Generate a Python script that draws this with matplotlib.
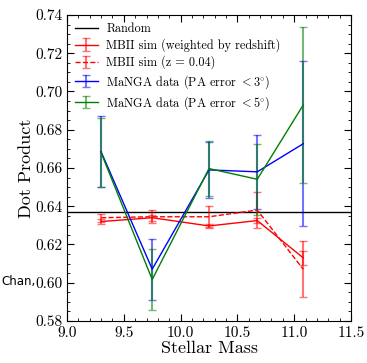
import numpy as np
import matplotlib
matplotlib.use('Agg')
from matplotlib import pyplot as plt
from matplotlib.ticker import MultipleLocator

plt.rcParams['font.family'] = 'serif'
plt.rcParams['font.serif'] = ['cmr10', 'DejaVu Serif']
plt.rcParams['mathtext.fontset'] = 'cm'
plt.rcParams['axes.formatter.use_mathtext'] = True

mass = [9.3, 9.75, 10.25, 10.675, 11.08]
random_level = 0.637

mbii_w = [0.632, 0.634, 0.6297, 0.6325, 0.613]
mbii_w_err = [0.0014, 0.0015, 0.0012, 0.0015, 0.0037]

mbii_z = [0.634, 0.6345, 0.6345, 0.6380, 0.607]
mbii_z_err = [0.0022, 0.0034, 0.0055, 0.0096, 0.0147]

manga3 = [0.6685, 0.6071, 0.659, 0.658, 0.6727]
manga3_err = [0.0185, 0.016, 0.0148, 0.0193, 0.043]

manga5 = [0.668, 0.6017, 0.6597, 0.6541, 0.693]
manga5_err = [0.018, 0.0158, 0.0143, 0.0185, 0.0407]

fig = plt.figure(figsize=(3.67, 3.63), dpi=100)
ax = fig.add_axes([0.1826, 0.1157, 0.7738, 0.843])

ax.axhline(random_level, color='black', lw=1.0, label='Random')


def draw(y, err, color, ls, label):
    line, caps, bars = ax.errorbar(mass, y, yerr=err, color=color, ls=ls,
                                   lw=1.0, elinewidth=1.5, capsize=2.7,
                                   capthick=1.0, label=label)
    for c in caps:
        c.set_alpha(0.55)
    for b in bars:
        b.set_alpha(0.55)


draw(mbii_w, mbii_w_err, 'red', '-', 'MBII sim (weighted by redshift)')
draw(mbii_z, mbii_z_err, 'red', '--', 'MBII sim (z = 0.04)')
draw(manga3, manga3_err, 'blue', '-', r'MaNGA data (PA error $<3^{\circ}$)')
draw(manga5, manga5_err, 'green', '-', r'MaNGA data (PA error $<5^{\circ}$)')

ax.set_xlim(9.0, 11.5)
ax.set_ylim(0.58, 0.74)
ax.xaxis.set_major_locator(MultipleLocator(0.5))
ax.xaxis.set_minor_locator(MultipleLocator(0.1))
ax.yaxis.set_major_locator(MultipleLocator(0.02))
ax.yaxis.set_minor_locator(MultipleLocator(0.005))
ax.xaxis.set_major_formatter(matplotlib.ticker.FormatStrFormatter('%.1f'))
ax.yaxis.set_major_formatter(matplotlib.ticker.FormatStrFormatter('%.2f'))
ax.tick_params(which='both', direction='in', top=True, right=True, labelsize=11)
ax.tick_params(which='major', length=5)
ax.tick_params(which='minor', length=2.5)
ax.set_xlabel('Stellar Mass', fontsize=13, labelpad=1)
ax.set_ylabel('Dot Product', fontsize=13, labelpad=1)

ax.legend(loc='upper left', frameon=False, fontsize=8.8, handlelength=1.85,
          handletextpad=0.7, borderaxespad=0.25, labelspacing=0.28)

fig.text(0.003, 0.225, 'Chan,', family='DejaVu Sans', fontsize=8.5,
         va='center', ha='left')

fig.savefig('out.png', dpi=100)
